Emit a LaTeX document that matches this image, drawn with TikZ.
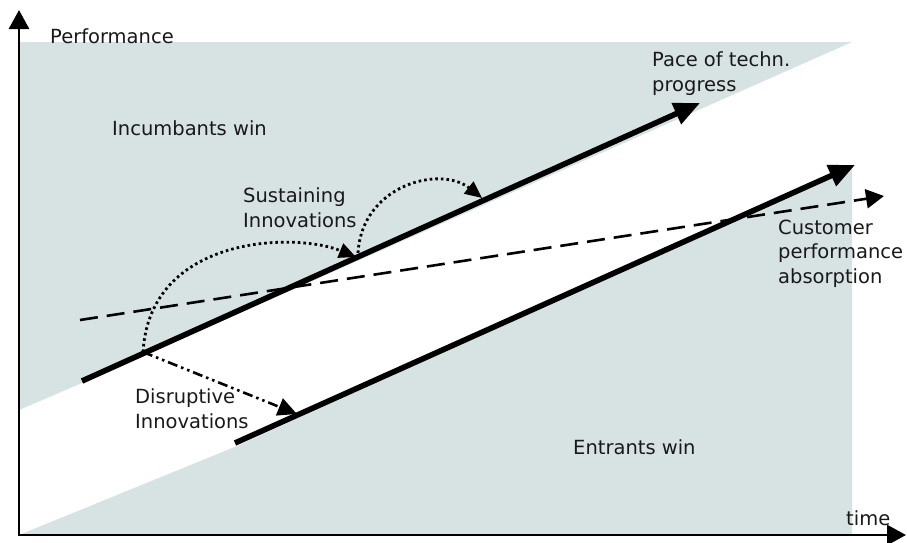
\documentclass[tikz,border=0pt]{standalone}
\usepackage{fontspec}
\setmainfont{DejaVu Sans}
\usetikzlibrary{arrows.meta}
\definecolor{shadecol}{RGB}{215,227,227}
\begin{document}
\begin{tikzpicture}[x=1pt,y=-1pt,
  lbl/.style={anchor=base west, inner sep=0pt, align=left, font=\fontsize{19.5}{24.5}\selectfont, text=black!90},
  axisline/.style={line width=2.8pt, {Triangle[length=19pt,width=20pt]}-{Triangle[length=19pt,width=20pt]}},
  trend/.style={line width=5.6pt, -{Triangle[length=26pt,width=22pt]}},
  absorb/.style={line width=2.6pt, dash pattern=on 18pt off 9pt, -{Triangle[length=18pt,width=19pt]}},
  sustain/.style={line width=2.8pt, dash pattern=on 2.6pt off 3pt, -{Triangle[length=17pt,width=15pt]}},
  disrupt/.style={line width=2.6pt, dash pattern=on 10pt off 4pt on 2.5pt off 4pt on 2.5pt off 4pt, -{Triangle[length=19pt,width=18pt]}}
]
\useasboundingbox (0,0) rectangle (907,542);
% shaded regions
\fill[shadecol] (19,42) -- (852,42) -- (82,383) -- (19,410) -- cycle;
\fill[shadecol] (19,535) -- (237,446) -- (852,166) -- (852,535) -- cycle;
% coordinates
\coordinate (o) at (19,535);
\coordinate (yt) at (19,10);
\coordinate (xt) at (906,535);
\coordinate (ps) at (82,381);
\coordinate (pe) at (700,103);
\coordinate (es) at (235,443);
\coordinate (ee) at (855,165);
\coordinate (cs) at (80,320);
\coordinate (ce) at (884,196);
\coordinate (src) at (143,352);
\coordinate (s1) at (356,257);
\coordinate (s2s) at (358,253);
\coordinate (s2e) at (482,198);
\coordinate (dt) at (297,414);
% axes
\draw[axisline] (yt) -- (o) -- (xt);
% lines
\draw[absorb] (cs) -- (ce);
\draw[trend] (ps) -- (pe);
\draw[trend] (es) -- (ee);
% innovations
\draw[sustain] (src) .. controls (150,235) and (295,232) .. (s1);
\draw[sustain] (s2s) .. controls (362,185) and (440,165) .. (s2e);
\draw[disrupt] (src) -- (dt);
% labels
\node[lbl] (perf) at (50,43) {Performance};
\node[lbl] (time) at (846,525) {time};
\node[lbl] (inc) at (112,135) {Incumbants win};
\node[lbl] (ent) at (573,454) {Entrants win};
\node[lbl] (sus) at (243,227) {Sustaining\\Innovations};
\node[lbl] (pace) at (652,91) {Pace of techn.\\progress};
\node[lbl] (cust) at (778,283) {Customer\\performance\\absorption};
\node[lbl] (dis) at (135,428) {Disruptive\\Innovations};
\end{tikzpicture}
\end{document}
